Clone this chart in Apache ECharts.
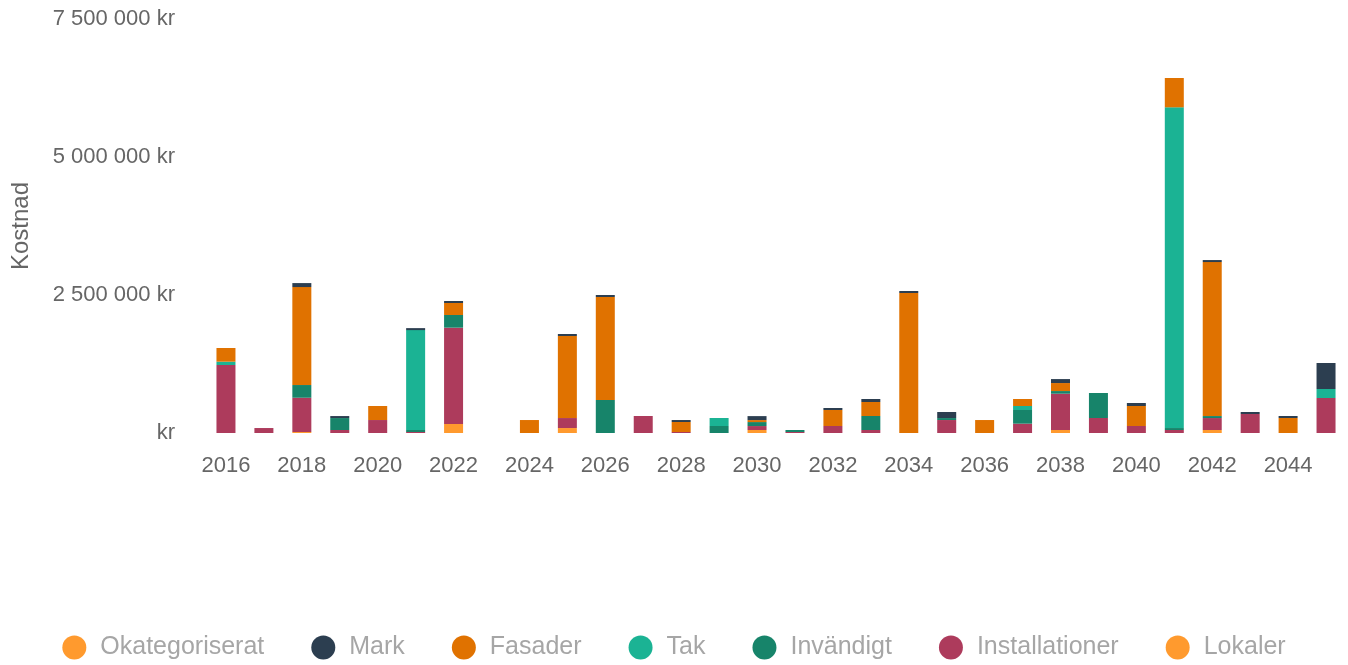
<!DOCTYPE html>
<html>
<head>
<meta charset="utf-8">
<script src="https://cdn.jsdelivr.net/npm/echarts@6/dist/echarts.min.js"></script>
<style>
html,body{margin:0;padding:0;background:#fff;}
#chart{width:1348px;height:665px;}
</style>
</head>
<body>
<div id="chart"></div>
<script>
const years = ['2016','2017','2018','2019','2020','2021','2022','2023','2024','2025','2026','2027','2028','2029','2030','2031','2032','2033','2034','2035','2036','2037','2038','2039','2040','2041','2042','2043','2044','2045'];

const lokaler        = [0,0,18000,0,0,0,163000,0,0,90000,0,0,0,0,54000,0,0,0,0,0,0,0,54000,0,0,0,54000,0,0,0];
const installationer = [1232000,90000,621000,54000,235000,18000,1745000,0,0,181000,0,308000,18000,0,72000,18000,127000,54000,0,235000,0,169000,658000,272000,127000,54000,217000,344000,0,634000];
const invandigt      = [0,0,230000,217000,0,36000,230000,0,0,0,598000,0,0,127000,72000,36000,0,254000,0,36000,0,248000,48000,453000,0,36000,36000,0,0,0];
const tak            = [60000,0,0,0,0,1810000,0,0,0,0,0,0,0,145000,0,0,0,0,0,0,0,72000,0,0,0,5810000,0,0,0,163000];
const fasader        = [248000,0,1775000,0,254000,0,217000,0,235000,1486000,1866000,0,181000,0,36000,0,290000,254000,2536000,0,235000,127000,145000,0,362000,531000,2790000,0,272000,0];
const mark           = [0,0,72000,36000,0,36000,36000,0,0,36000,36000,0,36000,0,72000,0,36000,54000,36000,109000,0,0,72000,0,54000,0,36000,36000,36000,471000];
const okategoriserat = [0,0,0,0,0,0,0,0,0,0,0,0,0,0,0,0,0,0,0,0,0,0,0,0,0,0,0,0,0,0];

const yTicks = [0, 2500000, 5000000, 7500000];
const legendOrder = ['Okategoriserat','Mark','Fasader','Tak','Invändigt','Installationer','Lokaler'];

const colors = {
  'Okategoriserat':'#FF9A2E',
  'Mark':'#2C3E50',
  'Fasader':'#E07200',
  'Tak':'#1BB394',
  'Invändigt':'#17846A',
  'Installationer':'#AD3B5C',
  'Lokaler':'#FF9A2E'
};

const stackSeries = [
  ['Lokaler', lokaler],
  ['Installationer', installationer],
  ['Invändigt', invandigt],
  ['Tak', tak],
  ['Fasader', fasader],
  ['Mark', mark],
  ['Okategoriserat', okategoriserat]
];

function fmt(v){
  if (v === 0) return 'kr';
  return String(v).replace(/\B(?=(\d{3})+(?!\d))/g, ' ') + ' kr';
}

const chart = echarts.init(document.getElementById('chart'));
chart.setOption({
  animation:false,
  textStyle:{fontFamily:'Liberation Sans, Arial, sans-serif'},
  grid:{left:207,right:3,top:19,bottom:232,containLabel:false},
  legend:{
    data:legendOrder,
    bottom:0,
    left:'center',
    icon:'circle',
    itemWidth:24,
    itemHeight:24,
    itemGap:47,
    textStyle:{color:'#a6a6a6',fontSize:25,padding:[0,0,0,9],fontFamily:'Liberation Sans, Arial, sans-serif'}
  },
  xAxis:{
    type:'category',
    data:years,
    axisLine:{show:false},
    axisTick:{show:false},
    axisLabel:{interval:1,color:'#666',fontSize:22,margin:22}
  },
  yAxis:{
    type:'value',
    min:yTicks[0],
    max:yTicks[yTicks.length-1],
    interval:yTicks[1]-yTicks[0],
    name:'Kostnad',
    nameLocation:'middle',
    nameGap:174,
    nameRotate:90,
    nameTextStyle:{color:'#666',fontSize:24},
    splitLine:{show:false},
    axisLine:{show:false},
    axisTick:{show:false},
    axisLabel:{color:'#666',fontSize:22,margin:32,formatter:fmt}
  },
  series: stackSeries.map(([name,data]) => ({
    name, type:'bar', stack:'total', data,
    barWidth:19,
    itemStyle:{color:colors[name]},
    emphasis:{disabled:true}
  }))
});
</script>
</body>
</html>
